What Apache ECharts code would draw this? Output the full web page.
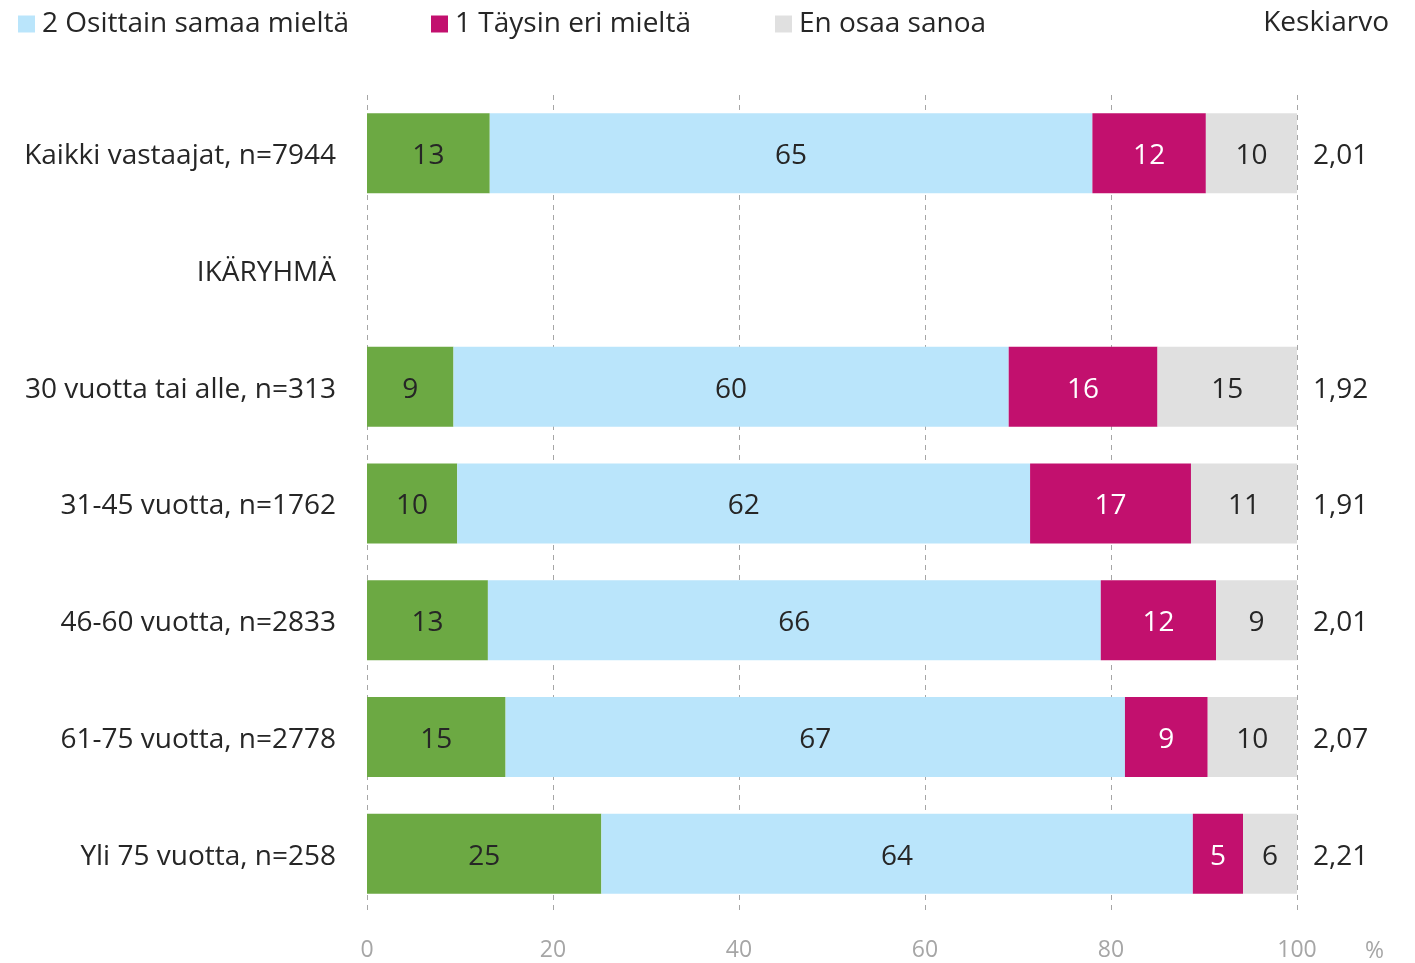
<!DOCTYPE html>
<html>
<head>
<meta charset="utf-8">
<script src="https://cdn.jsdelivr.net/npm/echarts@6/dist/echarts.min.js"></script>
<style>
  html, body { margin: 0; padding: 0; background: #fff; }
  #chart { width: 1415px; height: 963px; }
</style>
</head>
<body>
<div id="chart"></div>
<script>
const categories = [
  'Kaikki vastaajat, n=7944',
  'IKÄRYHMÄ',
  '30 vuotta tai alle, n=313',
  '31-45 vuotta, n=1762',
  '46-60 vuotta, n=2833',
  '61-75 vuotta, n=2778',
  'Yli 75 vuotta, n=258'
]
const seriesNames = ['3 Samaa mieltä', '2 Osittain samaa mieltä', '1 Täysin eri mieltä', 'En osaa sanoa']
const green = [13.2, null, 9.3, 9.7, 13.0, 14.9, 25.2]
const lightBlue = [64.8, null, 59.7, 61.6, 65.9, 66.6, 63.6]
const magenta = [12.2, null, 16.0, 17.3, 12.4, 8.9, 5.4]
const grey = [9.8, null, 15.0, 11.4, 8.7, 9.6, 5.8]
const means = ['2,01', '', '1,92', '1,91', '2,01', '2,07', '2,21']
const xTicks = [0, 20, 40, 60, 80, 100]

const FONT = '"Open Sans", "Noto Sans", sans-serif'
const colors = ['#6ca943', '#bae5fb', '#c2106e', '#e0e0e0']
const labelColors = ['#262626', '#262626', '#ffffff', '#262626']
const values = [green, lightBlue, magenta, grey]

const chart = echarts.init(document.getElementById('chart'), null, { renderer: 'canvas' })

const legendItem = (name, left) => ({
  data: [name],
  left: left,
  top: 5,
  itemWidth: 17,
  itemHeight: 17,
  icon: 'rect',
  textStyle: { color: '#262626', fontSize: 28, fontFamily: FONT, padding: [0, 0, 0, 2] },
  selectedMode: false,
})

// rich style nudges the side labels down a few px to sit on the bar centre
const sideRich = { t: { color: '#262626', fontSize: 28, fontFamily: FONT, padding: [6, 0, 0, 0] } }

chart.setOption({
  animation: false,
  textStyle: { fontFamily: FONT },
  title: {
    text: 'Keskiarvo',
    right: 21,
    top: 4,
    textStyle: { color: '#262626', fontSize: 28, fontWeight: 'normal', fontFamily: FONT },
  },
  legend: [
    legendItem(seriesNames[1], 13),
    legendItem(seriesNames[2], 426),
    legendItem(seriesNames[3], 770),
  ],
  grid: { left: 367, right: 118, top: 95, height: 820 },
  xAxis: {
    type: 'value',
    min: 0,
    max: 100,
    interval: 20,
    name: '%',
    nameLocation: 'end',
    nameGap: 68,
    nameTextStyle: { color: '#a6a6a6', fontSize: 23, fontFamily: FONT, verticalAlign: 'top', padding: [28, 0, 0, 0] },
    axisLine: { show: false },
    axisTick: { show: false },
    axisLabel: {
      color: '#a6a6a6', fontSize: 23, margin: 27,
      formatter: v => xTicks.includes(v) ? String(v) : '',
    },
    splitLine: { show: true, lineStyle: { color: '#a6a6a6', type: [5, 5], width: 1 } },
  },
  yAxis: [
    {
      type: 'category',
      data: categories,
      inverse: true,
      axisLine: { show: false },
      axisTick: { show: false },
      axisLabel: { margin: 31, formatter: v => '{t|' + v + '}', rich: sideRich },
    },
    {
      type: 'category',
      data: means,
      inverse: true,
      position: 'right',
      axisLine: { show: false },
      axisTick: { show: false },
      axisLabel: { margin: 16, align: 'left', formatter: v => (v ? '{t|' + v + '}' : ''), rich: sideRich },
    },
  ],
  series: values.map((arr, i) => ({
    name: seriesNames[i],
    type: 'bar',
    stack: 'total',
    data: arr,
    barWidth: 80,
    itemStyle: { color: colors[i] },
    label: {
      show: true,
      position: 'inside',
      color: labelColors[i],
      fontSize: 28,
      fontFamily: FONT,
      offset: [0, 3],
      formatter: p => (p.value == null ? '' : String(Math.round(p.value))),
    },
  })),
})
</script>
</body>
</html>
